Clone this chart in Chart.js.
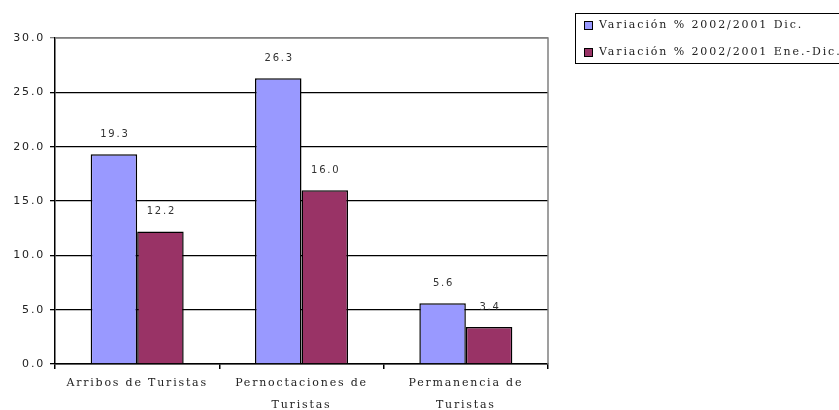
<!DOCTYPE html>
<html>
<head>
<meta charset="utf-8">
<script src="https://cdn.jsdelivr.net/npm/chart.js@4/dist/chart.umd.min.js"></script>
<style>
  html, body { margin: 0; padding: 0; background: #fff; }
  #wrap { position: relative; width: 839px; height: 410px; overflow: hidden; }
  #legend {
    position: absolute; left: 575px; top: 13px; width: 300px; height: 51px;
    border: 1px solid #000; box-sizing: border-box;
    font-family: "DejaVu Serif", serif; font-size: 11px; letter-spacing: 1.9px; color: #222;
  }
  #legend .row { position: absolute; left: 0; height: 14px; line-height: 14px; white-space: nowrap; }
  #legend .sw { position: absolute; left: 8px; top: 3px; width: 7px; height: 7px; border: 1px solid #000; }
  #legend .tx { position: absolute; left: 23px; top: 0; }
</style>
</head>
<body>
<div id="wrap">
  <canvas id="grafico" width="839" height="410"></canvas>
  <div id="legend"></div>
</div>
<script>
const categorias = [
  ["Arribos de Turistas"],
  ["Pernoctaciones de", "Turistas"],
  ["Permanencia de", "Turistas"]
];
const serieDic = [19.3, 26.3, 5.6];
const serieEneDic = [12.2, 16.0, 3.4];
const nombres = ["Variación % 2002/2001 Dic.", "Variación % 2002/2001 Ene.-Dic."];
const colores = ["#9999FF", "#993366"];
const yTicks = [0, 5, 10, 15, 20, 25, 30];

// espaciado de letras como en el original
const espaciado = {
  id: "espaciado",
  beforeUpdate(chart) { chart.ctx.letterSpacing = "1.8px"; },
  beforeDraw(chart) { chart.ctx.letterSpacing = "1.8px"; }
};

// marco gris arriba y derecha
const marco = {
  id: "marco",
  beforeDatasetsDraw(chart) {
    const { ctx, chartArea: a } = chart;
    ctx.save();
    ctx.strokeStyle = "#808080";
    ctx.lineWidth = 1.5;
    ctx.beginPath();
    ctx.moveTo(a.left, a.top);
    ctx.lineTo(a.right, a.top);
    ctx.lineTo(a.right, a.bottom);
    ctx.stroke();
    ctx.restore();
  }
};

// etiquetas de valores
const etiquetas = {
  id: "etiquetas",
  afterDatasetsDraw(chart) {
    const ctx = chart.ctx;
    ctx.save();
    ctx.font = "10px 'DejaVu Sans', sans-serif";
    ctx.fillStyle = "#333";
    ctx.textAlign = "center";
    ctx.textBaseline = "middle";
    chart.data.datasets.forEach((ds, i) => {
      chart.getDatasetMeta(i).data.forEach((el, j) => {
        ctx.fillText(ds.data[j].toFixed(1), el.x + 1, el.y - 20);
      });
    });
    ctx.restore();
  }
};

const chart = new Chart(document.getElementById("grafico").getContext("2d"), {
  type: "bar",
  data: {
    labels: categorias,
    datasets: [
      { label: nombres[0], data: serieDic, backgroundColor: colores[0], borderColor: "#000", borderWidth: 1.5 },
      { label: nombres[1], data: serieEneDic, backgroundColor: colores[1], borderColor: "#000", borderWidth: 1.5 }
    ]
  },
  options: {
    responsive: false,
    animation: false,
    datasets: { bar: { categoryPercentage: 0.566, barPercentage: 1 } },
    layout: { padding: { top: 38, right: 291, left: 0, bottom: 0 } },
    plugins: { legend: { display: false }, tooltip: { enabled: false } },
    scales: {
      x: {
        grid: { offset: true, drawOnChartArea: false, color: "#000", tickLength: 5, lineWidth: 1.5 },
        border: { color: "#000", width: 1.5 },
        ticks: {
          color: "#222", padding: 3,
          font: { family: "'DejaVu Serif', serif", size: 11, lineHeight: 2 }
        },
        afterFit(s) { s.height = 46; }
      },
      y: {
        min: 0, max: 30,
        afterBuildTicks(s) { s.ticks = yTicks.map(v => ({ value: v })); },
        grid: {
          color: (c) => (c.tick && c.tick.value === 30 ? "#808080" : "#000"),
          lineWidth: 1.3, tickLength: 5
        },
        border: { color: "#000", width: 1.5 },
        ticks: {
          color: "#222", padding: 5,
          font: { family: "'DejaVu Sans', sans-serif", size: 11 },
          callback: (v) => Number(v).toFixed(1)
        },
        afterFit(s) { s.width = 55; }
      }
    }
  },
  plugins: [espaciado, marco, etiquetas]
});

// leyenda
const leg = document.getElementById("legend");
nombres.forEach((n, i) => {
  const row = document.createElement("div");
  row.className = "row";
  row.style.top = (4 + i * 27) + "px";
  row.innerHTML = `<span class="sw" style="background:${colores[i]}"></span><span class="tx">${n}</span>`;
  leg.appendChild(row);
});
</script>
</body>
</html>
